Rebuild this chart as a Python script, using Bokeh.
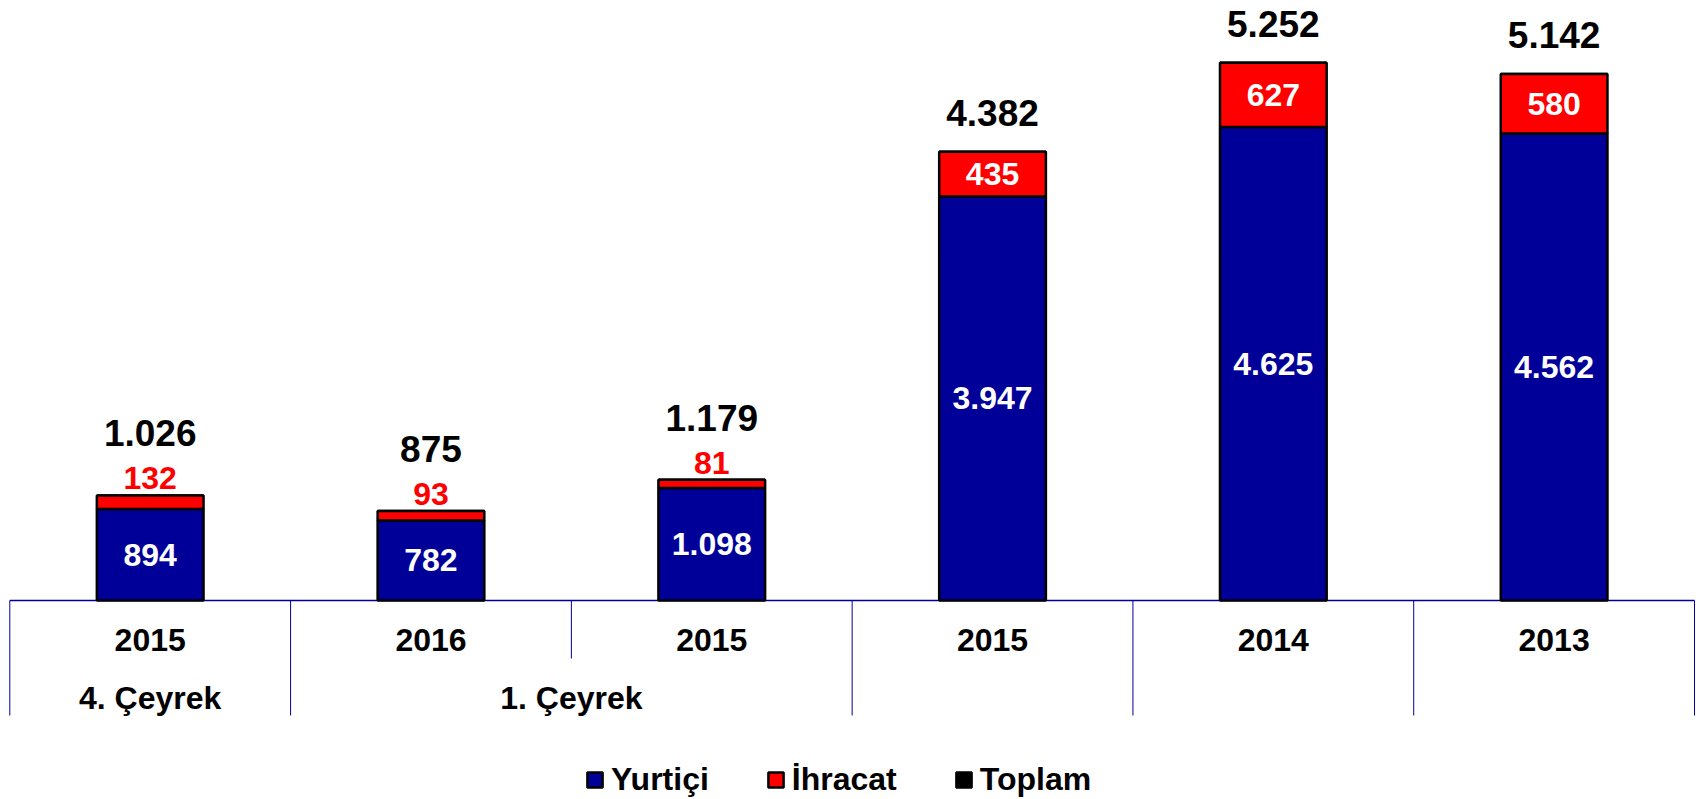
from bokeh.plotting import figure
from bokeh.models import Range1d, Legend, LegendItem
from bokeh.core.properties import value
from bokeh.embed import file_html
from bokeh.resources import INLINE

# ---- data ----
years = ["2015", "2016", "2015", "2015", "2014", "2013"]
group_labels = ["4. Çeyrek", "1. Çeyrek"]
group_spans = [(0, 1), (1, 3)]          # category index ranges [start, end)
yurtici = [894, 782, 1098, 3947, 4625, 4562]
ihracat = [132, 93, 81, 435, 627, 580]
toplam = [1026, 875, 1179, 4382, 5252, 5142]
series_names = ["Yurtiçi", "İhracat", "Toplam"]

# ---- styling / layout ----
BLUE = "#000099"
RED = "#FF0000"
AXIS_COL = "#000099"
FONT = value("Liberation Sans")
W, H = 1696, 799
BASE_PX = 600            # baseline distance from top of canvas
SCALE = 0.10238          # px per data unit
N = len(years)
X0_PX, X1_PX = 9.3, 1694.0


def px(n):
    return n / SCALE


def fmt(v):
    return f"{v:,}".replace(",", ".")


ux = N / (X1_PX - X0_PX)
p = figure(width=W, height=H, output_backend="svg", toolbar_location=None,
           x_range=Range1d(-X0_PX * ux, N + (W - X1_PX) * ux),
           y_range=Range1d(-(H - BASE_PX) / SCALE, BASE_PX / SCALE),
           x_axis_type=None, y_axis_type=None, min_border=0,
           background_fill_color="white", border_fill_color="white")
p.outline_line_color = None
p.grid.visible = False

xs = [i + 0.5 for i in range(N)]

# baseline and category dividers
p.segment(x0=[0], y0=[0], x1=[N], y1=[0], line_color=AXIS_COL, line_width=1.3)
interior = set()
for s, e in group_spans:
    interior.update(range(s + 1, e))
bx = list(range(N + 1))
blen = [px(58) if b in interior else px(115) for b in bx]
p.segment(x0=bx, y0=[0] * len(bx), x1=bx, y1=[-l for l in blen],
          line_color=AXIS_COL, line_width=1)

BW = 0.38
# total marks: zero-height bars at the stack tops (their outline coincides
# with the bar top edge); they provide the black "Toplam" legend swatch
r_tot = p.vbar(x=xs, width=BW, bottom=toplam, top=toplam, fill_color="black",
               line_color="black", line_width=2.5)
# stacked bars
r_blue = p.vbar(x=xs, width=BW, bottom=0, top=yurtici, fill_color=BLUE,
                line_color="black", line_width=2.5)
r_red = p.vbar(x=xs, width=BW, bottom=yurtici,
               top=[a + b for a, b in zip(yurtici, ihracat)],
               fill_color=RED, line_color="black", line_width=2.5)

common = dict(text_font=FONT, text_font_style="bold", text_align="center",
              text_baseline="middle")

# labels inside blue segments
p.text(x=xs, y=[v / 2 for v in yurtici], text=[fmt(v) for v in yurtici],
       text_color="white", text_font_size="32px", **common)

# export labels: inside when the segment is tall enough, else above in red
inside = [v * SCALE >= 30 for v in ihracat]
ix = [x for x, k in zip(xs, inside) if k]
iy = [a + b / 2 for a, b, k in zip(yurtici, ihracat, inside) if k]
it = [fmt(b) for b, k in zip(ihracat, inside) if k]
p.text(x=ix, y=iy, text=it, text_color="white", text_font_size="32px", **common)
ox = [x for x, k in zip(xs, inside) if not k]
oy = [t + px(17) for t, k in zip(toplam, inside) if not k]
ot = [fmt(b) for b, k in zip(ihracat, inside) if not k]
p.text(x=ox, y=oy, text=ot, text_color=RED, text_font_size="32px", **common)

# totals
ty = [t + (px(39) if k else px(62)) for t, k in zip(toplam, inside)]
p.text(x=xs, y=ty, text=[fmt(t) for t in toplam], text_color="black",
       text_font_size="37px", **common)

# category labels
p.text(x=xs, y=[-px(39)] * N, text=years, text_color="black",
       text_font_size="32px", **common)
gx = [(s + e) / 2 for s, e in group_spans]
p.text(x=gx, y=[-px(97)] * len(gx), text=group_labels, text_color="black",
       text_font_size="32px", **common)

legend = Legend(items=[LegendItem(label=series_names[0], renderers=[r_blue]),
                       LegendItem(label=series_names[1], renderers=[r_red]),
                       LegendItem(label=series_names[2], renderers=[r_tot])],
                orientation="horizontal", location=(585, 1),
                border_line_color=None, background_fill_alpha=0,
                padding=0, margin=0, spacing=57, label_standoff=7,
                glyph_width=19, glyph_height=19,
                label_text_font_size="32px", label_text_font_style="bold",
                label_text_font="Liberation Sans", label_text_color="black")
p.add_layout(legend)

open("out.html", "w").write(file_html(p, INLINE))
